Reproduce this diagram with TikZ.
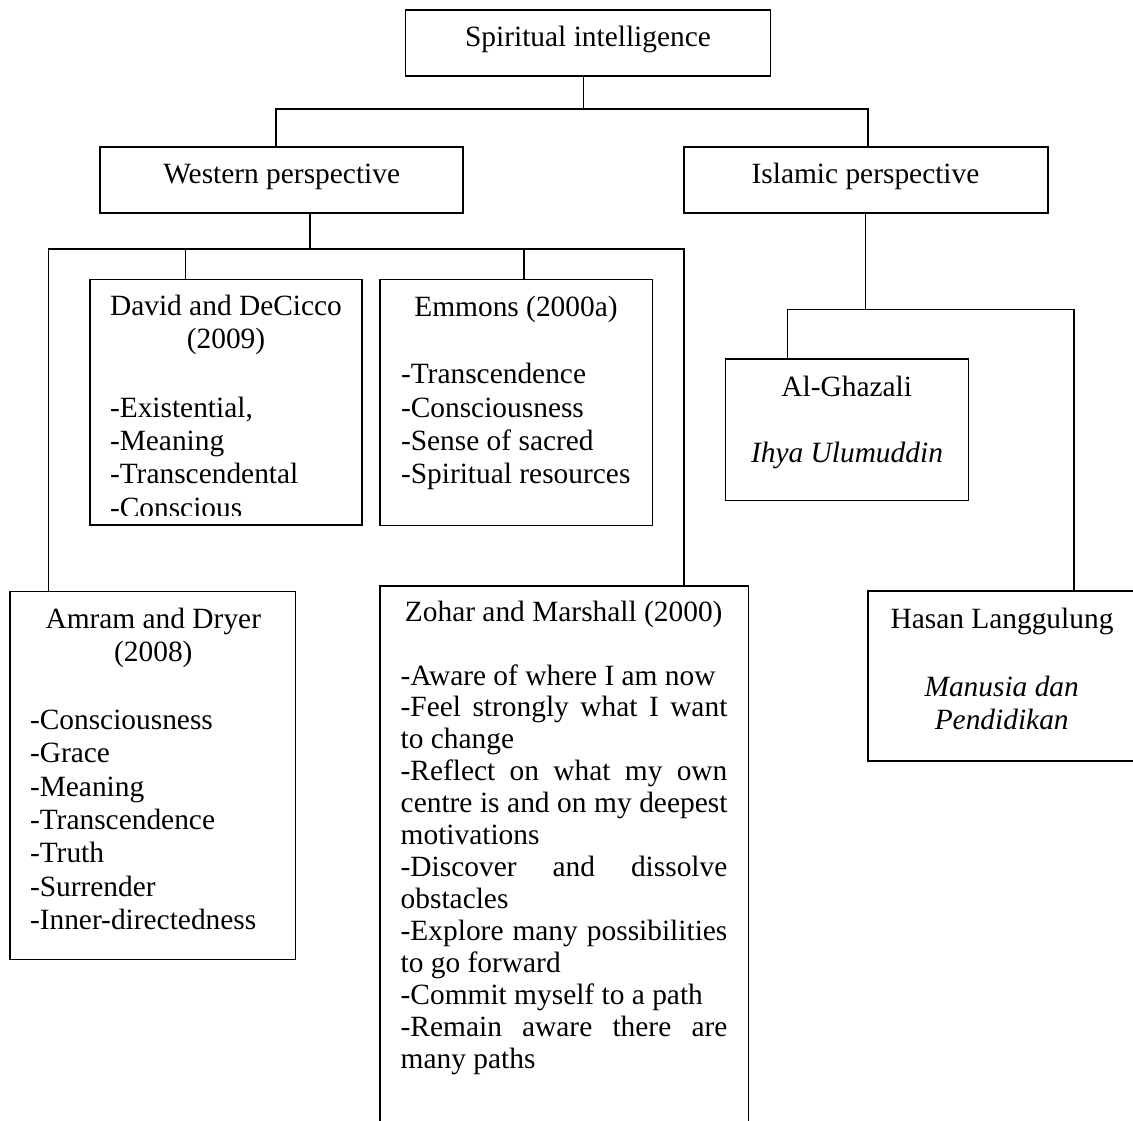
\documentclass[tikz,border=0pt]{standalone}
\usepackage{fontspec}
\setmainfont{Liberation Serif}

% text helpers: first-line baseline is the box baseline
\newcommand{\diagfont}{\fontsize{29.4}{33.4}\selectfont}
\newcommand{\ctext}[2]{\parbox[t]{#1}{\centering #2}}
\newcommand{\ltext}[2]{\parbox[t]{#1}{\raggedright #2}}
\newcommand{\jline}[1]{\makebox[\linewidth][s]{#1}}

\tikzset{
  box/.style={draw, line width=1.4pt, inner sep=0pt, outer sep=0pt, anchor=north west},
  link/.style={line width=1.3pt},
  txt/.style={inner sep=0pt, outer sep=0pt, font=\diagfont},
}

\begin{document}
\begin{tikzpicture}[x=1pt, y=-1pt]
\useasboundingbox (0,0) rectangle (1133,1121);
\clip (0,0) rectangle (1133,1121);

% ---- boxes
\node[box, minimum width=364.6pt, minimum height=66pt]   (top)     at (405.7,10)    {};
\node[box, minimum width=363pt,   minimum height=66pt]   (west)    at (100,147)     {};
\node[box, minimum width=364pt,   minimum height=66pt]   (islam)   at (684,147)     {};
\node[box, minimum width=272pt,   minimum height=245.7pt] (david)  at (90,279.3)    {};
\node[box, minimum width=272.3pt, minimum height=246pt]  (emmons)  at (380,279.3)   {};
\node[box, minimum width=285.7pt, minimum height=367.9pt] (amram)  at (10,591.7)    {};
\node[box, minimum width=368.3pt, minimum height=600pt]  (zohar)   at (380,586)     {};
\node[box, minimum width=242.6pt, minimum height=141.7pt] (ghazali) at (725.7,359)  {};
\node[box, line width=2pt, minimum width=290pt, minimum height=170pt] (hasan) at (867.7,590.7) {};

% ---- junction points of the tree
\coordinate (j0) at (583.7,109);
\coordinate (jw) at (276,109);
\coordinate (ji) at (868,109);
\coordinate (k0) at (310,249);
\coordinate (ka) at (48.3,249);
\coordinate (kb) at (684,249);
\coordinate (kd) at (185.7,249);
\coordinate (ke) at (524,249);
\coordinate (m0) at (865.7,309.3);
\coordinate (ma) at (787.7,309.3);
\coordinate (mb) at (1074,309.3);

% ---- connectors
\draw[link] (top.south -| j0) -- (j0);
\draw[link] (west.north -| jw) -- (jw) -- (ji) -- (islam.north -| ji);
\draw[link] (west.south -| k0) -- (k0);
\draw[link] (amram.north -| ka) -- (ka) -- (kb) -- (zohar.north -| kb);
\draw[link] (kd) -- (david.north -| kd);
\draw[link] (ke) -- (emmons.north -| ke);
\draw[link] (islam.south -| m0) -- (m0);
\draw[link] (ghazali.north -| ma) -- (ma) -- (mb) -- (hasan.north -| mb);

% ---- titles
\node[txt, anchor=base] (tTop)   at (588,47)     {Spiritual intelligence};
\node[txt, anchor=base] (tWest)  at (281.7,183.3) {Western perspective};
\node[txt, anchor=base] (tIslam) at (865.5,183)  {Islamic perspective};
\node[txt, anchor=base] (tDavid) at (226,315)    {\ctext{260pt}{David and DeCicco\\(2009)}};
\node[txt, anchor=base] (tEmmons) at (516,316.5) {Emmons (2000a)};
\node[txt, anchor=base] (tAmram) at (153.3,628.3) {\ctext{270pt}{Amram and Dryer\\(2008)}};
\node[txt, anchor=base] (tZohar) at (563.7,621.7) {Zohar and Marshall (2000)};
\node[txt, anchor=base] (tGhazali) at (846.7,396) {Al-Ghazali};
\node[txt, anchor=base, font=\diagfont\itshape] (tIhya) at (847,462.7) {Ihya Ulumuddin};
\node[txt, anchor=base] (tHasan) at (1002,628.3) {Hasan Langgulung};
\node[txt, anchor=base, font=\diagfont\itshape] (tManusia) at (1001.7,696)
  {\ctext{240pt}{Manusia dan\\Pendidikan}};

% ---- item lists
\begin{scope}
  \clip (90,279.3) rectangle (362,515);
  \node[txt, anchor=base west] (lDavid) at (110,417)
    {\ltext{245pt}{-Existential,\\-Meaning\\-Transcendental\\-Conscious}};
\end{scope}
\node[txt, anchor=base west] (lEmmons) at (401,383.7)
  {\ltext{250pt}{-Transcendence\\-Consciousness\\-Sense of sacred\\-Spiritual resources}};
\node[txt, anchor=base west] (lAmram) at (30,729.3)
  {\ltext{260pt}{-Consciousness\\-Grace\\-Meaning\\-Transcendence\\-Truth\\-Surrender\\-Inner-directedness}};
\node[txt, anchor=base west, font=\fontsize{29.4}{31.95}\selectfont] (lZohar) at (400.7,685)
  {\ltext{326.7pt}{-Aware of where I am now\\
    \jline{-Feel strongly what I want}\\
    to change\\
    \jline{-Reflect on what my own}\\
    \jline{centre is and on my deepest}\\
    motivations\\
    \jline{-Discover and dissolve}\\
    obstacles\\
    \jline{-Explore many possibilities}\\
    to go forward\\
    -Commit myself to a path\\
    \jline{-Remain aware there are}\\
    many paths}};
\end{tikzpicture}
\end{document}
